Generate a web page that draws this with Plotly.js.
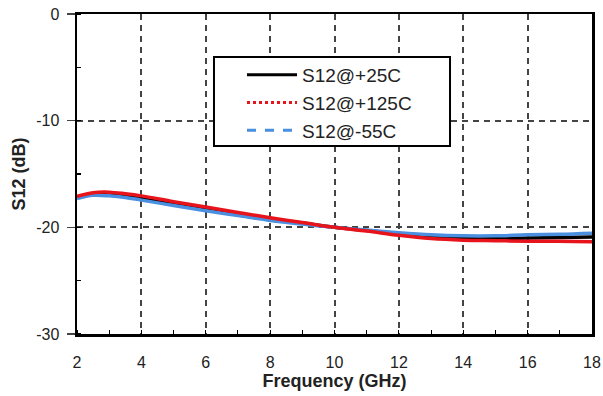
<!DOCTYPE html>
<html><head><meta charset="utf-8">
<script src="https://cdn.plot.ly/plotly-3.0.1.min.js"></script>
<style>body{margin:0;background:#fff}#c{width:603px;height:396px}</style>
</head><body><div id="c"></div>
<script>
const freq = [2, 2.5, 3, 3.5, 4, 5, 6, 7, 8, 9, 10, 11, 12, 13, 14, 15, 16, 17, 18];
const s12_25 = [-17.2, -16.85, -16.8, -16.95, -17.2, -17.7, -18.2, -18.7, -19.2, -19.6, -20.0, -20.3, -20.6, -20.9, -21.05, -21.05, -21.0, -20.95, -20.9];
const s12_125 = [-17.1, -16.75, -16.7, -16.85, -17.05, -17.6, -18.1, -18.6, -19.1, -19.55, -20.0, -20.35, -20.75, -21.05, -21.2, -21.25, -21.3, -21.3, -21.35];
const s12_m55 = [-17.3, -17.0, -17.05, -17.2, -17.45, -17.95, -18.45, -18.9, -19.35, -19.7, -20.0, -20.25, -20.5, -20.7, -20.8, -20.8, -20.7, -20.65, -20.55];
const names = ['S12@+25C', 'S12@+125C', 'S12@-55C'];
const colors = ['#000000', '#e8141c', '#4a8fe0'];
const dashes = ['solid', 'dot', 'dash'];
const xTicks = [2, 4, 6, 8, 10, 12, 14, 16, 18];
const yTicks = [0, -10, -20, -30];

const series = [s12_25, s12_m55, s12_125];
const order = [0, 2, 1];
const traces = [];
series.forEach((ys, k) => {
  const i = order[k];
  traces.push({x: freq, y: ys, mode: 'lines', line: {color: colors[i], width: 3.5, shape: 'spline'}, showlegend: false, hoverinfo: 'skip'});
});
names.forEach((n, i) => {
  traces.push({x: [null], y: [null], mode: 'lines', name: n, line: {color: colors[i], width: 3, dash: dashes[i]}});
});

const FAM = 'Liberation Sans, Arial, sans-serif';
const fnt = {family: FAM, size: 16, color: '#222'};
const layout = {
  width: 603, height: 396,
  margin: {l: 77, r: 11, t: 14, b: 62},
  paper_bgcolor: '#fff', plot_bgcolor: '#fff',
  font: fnt,
  showlegend: true,
  legend: {x: 0.3204, y: 0.869, xanchor: 'left', yanchor: 'top', borderwidth: 0,
    bgcolor: 'rgba(0,0,0,0)', font: {family: FAM, size: 19, color: '#222'},
    itemwidth: 50, tracegroupgap: 0},
  shapes: [{type: 'rect', xref: 'paper', yref: 'paper', x0: 0.266, x1: 0.7243, y0: 0.5875, y1: 0.866,
    line: {color: '#000', width: 2}, fillcolor: '#fff', layer: 'above'}],
  xaxis: {range: [2, 18], tickvals: xTicks, ticktext: xTicks.map(String), showline: true, linecolor: '#000', linewidth: 2.5,
    mirror: true, ticks: '', showgrid: true, gridcolor: '#444', gridwidth: 2, griddash: '6px,5px', zeroline: false,
    tickfont: fnt, ticklabelstandoff: 12,
    minor: {dtick: 1, tick0: 1, ticks: 'inside', ticklen: 4, tickcolor: '#000', showgrid: false},
    title: {text: '<b>Frequency (GHz)</b>', font: {family: FAM, size: 18, color: '#222'}, standoff: 4}},
  yaxis: {range: [-30, 0], tickvals: yTicks, ticktext: yTicks.map(String), showline: true, linecolor: '#000', linewidth: 2.5,
    mirror: true, ticks: 'outside', ticklen: 8, tickcolor: '#444', tickwidth: 1.5, showgrid: true, gridcolor: '#444', gridwidth: 2, griddash: '6px,5px',
    zeroline: false, tickfont: fnt, ticklabelstandoff: 4,
    minor: {dtick: 5, tick0: -5, ticks: 'inside', ticklen: 4, tickcolor: '#000', showgrid: false},
    title: {text: '<b>S12 (dB)</b>', font: {family: FAM, size: 18, color: '#222'}, standoff: 6}}
};
Plotly.newPlot('c', traces, layout, {displayModeBar: false, staticPlot: true});
</script></body></html>
